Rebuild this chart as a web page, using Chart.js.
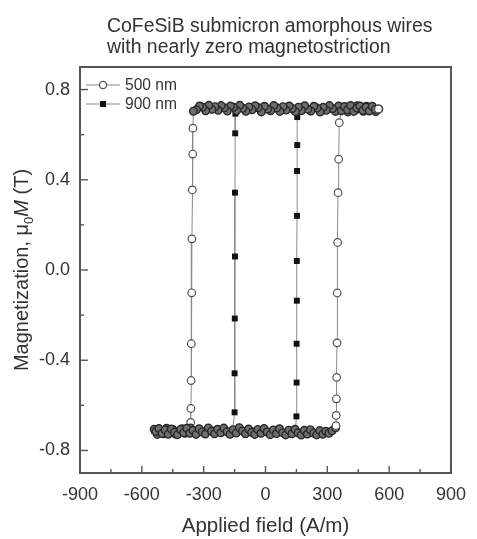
<!DOCTYPE html>
<html>
<head>
<meta charset="utf-8">
<script src="https://cdn.jsdelivr.net/npm/chart.js@4/dist/chart.umd.min.js"></script>
<style>
  body { margin: 0; background: #fff; }
  canvas { display: block; }
</style>
</head>
<body>
<canvas id="loopChart" width="477" height="539"></canvas>
<script>
// tick values
const xTicks = [-900, -600, -300, 0, 300, 600, 900];
const xMinor = [-750, -450, -150, 150, 450, 750];
const yTicks = [-0.8, -0.4, 0, 0.4, 0.8];
const yMinor = [-0.6, -0.2, 0.2, 0.6];

// 500 nm loop (field in A/m, magnetization in T)
const h500TopDown = [550,535,520,505,490,475,460,445,430,415,400,385,370,355,340,325,310,295,280,265,250,235,220,205,190,175,160,145,130,115,100,85,70,55,40,25,10,-5,-20,-35,-50,-65,-80,-95,-110,-125,-140,-155,-170,-185,-200,-215,-230,-245,-260,-275,-290,-305,-320,-335];
const m500TopDown = [0.714,0.702,0.722,0.709,0.726,0.704,0.717,0.728,0.706,0.719,
  0.701,0.724,0.711,0.727,0.703,0.716,0.729,0.708,0.721,0.700,
  0.718,0.726,0.705,0.713,0.728,0.707,0.722,0.702,0.716,0.727,
  0.709,0.724,0.703,0.719,0.729,0.706,0.714,0.726,0.701,0.720,
  0.728,0.710,0.723,0.704,0.717,0.730,0.707,0.721,0.727,0.705,
  0.719,0.729,0.708,0.724,0.712,0.730,0.706,0.722,0.727,0.710];
const h500LeftDown = [-350,-352,-353,-355,-357,-358,-360,-361,-362,-363,-364];
const m500LeftDown = [0.704,0.629,0.514,0.355,0.138,-0.101,-0.327,-0.490,-0.614,-0.676,-0.700];
const h500BotDown = [-375,-390,-405,-420,-435,-450,-465,-480,-495,-510,-525,-540];
const m500BotDown = [-0.709,-0.724,-0.704,-0.718,-0.728,-0.707,-0.721,-0.702,-0.726,-0.712,-0.729,-0.706];
const h500BotUp = [-532,-517,-502,-487,-472,-457,-442,-427,-412,-397,-382,-367,-352,-337,-322,-307,-292,-277,-262,-247,-232,-217,-202,-187,-172,-157,-142,-127,-112,-97,-82,-67,-52,-37,-22,-7,8,23,38,53,68,83,98,113,128,143,158,173,188,203,218,233,248,263,278,293,308,323];
const m500BotUp = [-0.716,-0.703,-0.725,-0.709,-0.728,-0.705,-0.719,-0.730,-0.707,-0.721,
  -0.702,-0.724,-0.711,-0.729,-0.704,-0.718,-0.727,-0.700,-0.715,-0.726,
  -0.706,-0.722,-0.701,-0.717,-0.728,-0.708,-0.723,-0.699,-0.714,-0.726,
  -0.705,-0.720,-0.729,-0.707,-0.724,-0.703,-0.718,-0.730,-0.709,-0.725,
  -0.704,-0.721,-0.731,-0.710,-0.726,-0.706,-0.722,-0.732,-0.711,-0.727,
  -0.708,-0.723,-0.731,-0.712,-0.728,-0.715,-0.724,-0.713];
const h500RightUp = [340,342,343,344,345,347,348,350,352,355,358];
const m500RightUp = [-0.700,-0.690,-0.645,-0.571,-0.476,-0.323,-0.102,0.122,0.343,0.491,0.653];
const h500TopUp = [368,383,398,413,428,443,458,473,488,503,518,533,548];
const m500TopUp = [0.706,0.724,0.710,0.729,0.703,0.718,0.727,0.708,0.722,0.705,0.726,0.712,0.714];

// 900 nm loop
const h900TopDown = [540,495,450,405,360,315,270,225,180,135,90,45,0,-45,-90,-135];
const m900TopDown = [0.714,0.710,0.716,0.712,0.708,0.715,0.711,0.717,0.713,0.709,0.716,0.712,0.718,0.714,0.710,0.712];
const h900LeftDown = [-146,-147,-148,-148,-149,-150,-150];
const m900LeftDown = [0.693,0.606,0.343,0.060,-0.215,-0.458,-0.631];
const h900BotDown = [-160,-205,-250,-295,-340,-385,-430,-475,-520,-540];
const m900BotDown = [-0.710,-0.714,-0.709,-0.716,-0.712,-0.707,-0.713,-0.718,-0.711,-0.714];
const h900BotUp = [-518,-473,-428,-383,-338,-293,-248,-203,-158,-113,-68,-23,22,67,112,145];
const m900BotUp = [-0.713,-0.709,-0.716,-0.711,-0.717,-0.712,-0.708,-0.715,-0.710,-0.716,-0.712,-0.718,-0.713,-0.709,-0.714,-0.710];
const h900RightUp = [150,151,151,152,152,153,153,154,154];
const m900RightUp = [-0.649,-0.499,-0.327,-0.136,0.040,0.240,0.439,0.554,0.678];
const h900TopUp = [170,215,260,305,350,395,440,485,530];
const m900TopUp = [0.713,0.709,0.715,0.711,0.717,0.712,0.708,0.714,0.711];

function pts(hs, ms) {
    return hs.map((h, i) => ({ x: h, y: ms[i] }));
}

const data500 = [].concat(
    pts(h500TopDown, m500TopDown), pts(h500LeftDown, m500LeftDown), pts(h500BotDown, m500BotDown),
    pts(h500BotUp, m500BotUp), pts(h500RightUp, m500RightUp), pts(h500TopUp, m500TopUp));
const data900 = [].concat(
    pts(h900TopDown, m900TopDown), pts(h900LeftDown, m900LeftDown), pts(h900BotDown, m900BotDown),
    pts(h900BotUp, m900BotUp), pts(h900RightUp, m900RightUp), pts(h900TopUp, m900TopUp));

const FONT = '"Liberation Sans", Arial, sans-serif';
const INK = '#333';
const FRAME = '#555';

// saturated points pile up into a dark band; the last one stays open
function inBand(c) {
    return c.raw && Math.abs(c.raw.y) > 0.695 && c.dataIndex !== data500.length - 1;
}

function seg(ctx, x1, y1, x2, y2) {
    ctx.beginPath(); ctx.moveTo(x1, y1); ctx.lineTo(x2, y2); ctx.stroke();
}

// frame, inward ticks, title, y title with sub/italic, legend
const decor = {
    id: 'decor',
    afterDraw(chart) {
        const ctx = chart.ctx, a = chart.chartArea;
        const xs = chart.scales.x, ys = chart.scales.y;
        ctx.save();
        ctx.strokeStyle = FRAME;
        ctx.lineWidth = 1.4;
        xTicks.forEach(v => { const p = xs.getPixelForValue(v); seg(ctx, p, a.bottom, p, a.bottom - 7); });
        xMinor.forEach(v => { const p = xs.getPixelForValue(v); seg(ctx, p, a.bottom, p, a.bottom - 4); });
        yTicks.forEach(v => { const p = ys.getPixelForValue(v); seg(ctx, a.left, p, a.left + 8, p); });
        yMinor.forEach(v => { const p = ys.getPixelForValue(v); seg(ctx, a.left, p, a.left + 4, p); });
        ctx.lineWidth = 2;
        ctx.strokeRect(a.left, a.top, a.right - a.left, a.bottom - a.top);

        // title
        ctx.fillStyle = INK;
        ctx.textAlign = 'left';
        ctx.textBaseline = 'alphabetic';
        ctx.font = '19.4px ' + FONT;
        ctx.fillText('CoFeSiB submicron amorphous wires', 107, 32);
        ctx.fillText('with nearly zero magnetostriction', 107, 53);

        // x title
        ctx.textAlign = 'center';
        ctx.font = '20.5px ' + FONT;
        ctx.fillText('Applied field (A/m)', (a.left + a.right) / 2, 532);

        // y title
        const parts = [
            { t: 'Magnetization, \u03bc', f: '20px ' + FONT, dy: 0 },
            { t: '0', f: '13px ' + FONT, dy: 5 },
            { t: 'M', f: 'italic 20px ' + FONT, dy: 0 },
            { t: ' (T)', f: '20px ' + FONT, dy: 0 }
        ];
        let total = 0;
        parts.forEach(p => { ctx.font = p.f; p.w = ctx.measureText(p.t).width; total += p.w; });
        ctx.translate(28, (a.top + a.bottom) / 2);
        ctx.rotate(-Math.PI / 2);
        ctx.textAlign = 'left';
        let cx = -total / 2;
        parts.forEach(p => { ctx.font = p.f; ctx.fillText(p.t, cx, p.dy); cx += p.w; });
        ctx.setTransform(1, 0, 0, 1, 0, 0);

        // legend
        const rows = [
            { y: 85, label: '500 nm', shape: 'circle' },
            { y: 104, label: '900 nm', shape: 'rect' }
        ];
        ctx.font = '15.6px ' + FONT;
        ctx.textBaseline = 'middle';
        rows.forEach(r => {
            ctx.strokeStyle = '#888';
            ctx.lineWidth = 1;
            seg(ctx, 86, r.y, 120, r.y);
            if (r.shape === 'circle') {
                ctx.beginPath();
                ctx.arc(103, r.y, 3.6, 0, Math.PI * 2);
                ctx.fillStyle = '#fff';
                ctx.fill();
                ctx.strokeStyle = '#555';
                ctx.lineWidth = 1.2;
                ctx.stroke();
            } else {
                ctx.fillStyle = '#111';
                ctx.fillRect(100, r.y - 3, 6, 6);
            }
            ctx.fillStyle = INK;
            ctx.fillText(r.label, 125, r.y + 1);
        });
        ctx.restore();
    }
};

new Chart(document.getElementById('loopChart'), {
    type: 'scatter',
    data: {
        datasets: [{
            label: '500 nm',
            data: data500,
            showLine: true,
            borderColor: '#8a8a8a', borderWidth: 1,
            pointStyle: 'circle', pointRadius: 3.8,
            pointBackgroundColor: c => inBand(c) ? '#6e6e6e' : '#fff',
            pointBorderColor: c => inBand(c) ? '#262626' : '#505050',
            pointBorderWidth: c => inBand(c) ? 1.4 : 1.2
        }, {
            label: '900 nm',
            data: data900,
            showLine: true,
            borderColor: '#8a8a8a', borderWidth: 1,
            pointStyle: 'rect', pointRadius: 4.2,
            pointBackgroundColor: '#111', pointBorderColor: '#111', pointBorderWidth: 0
        }]
    },
    options: {
        responsive: false,
        animation: false,
        layout: { padding: { left: 0, right: 17, top: 67, bottom: 0 } },
        plugins: { legend: { display: false }, tooltip: { enabled: false } },
        scales: {
            x: {
                type: 'linear', min: -900, max: 900,
                afterBuildTicks: s => { s.ticks = xTicks.map(v => ({ value: v })); },
                afterFit: s => { s.height = 66; },
                grid: { display: false, drawTicks: false },
                border: { display: false },
                ticks: { color: INK, padding: 11, font: { family: FONT, size: 18 }, callback: v => String(v) }
            },
            y: {
                type: 'linear', min: -0.9, max: 0.9,
                afterBuildTicks: s => { s.ticks = yTicks.map(v => ({ value: v })); },
                afterFit: s => { s.width = 80; },
                grid: { display: false, drawTicks: false },
                border: { display: false },
                ticks: { color: INK, padding: 10, font: { family: FONT, size: 18 }, callback: v => v.toFixed(1) }
            }
        }
    },
    plugins: [decor]
});
</script>
</body>
</html>
